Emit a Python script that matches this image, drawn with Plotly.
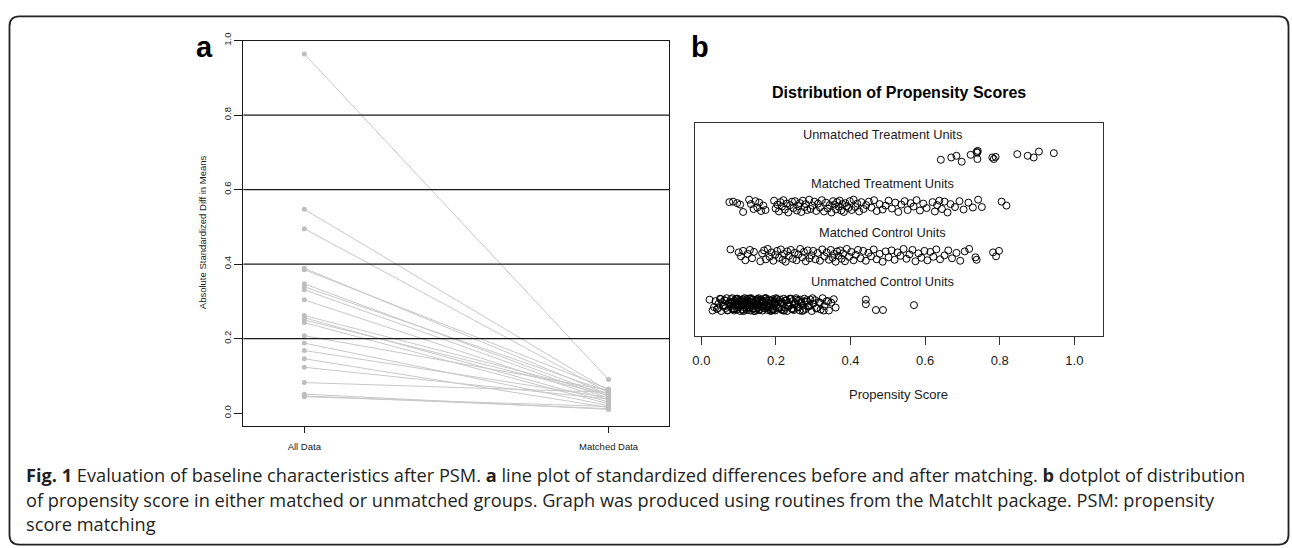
import plotly.graph_objects as go

# ---------------- data ----------------
# Panel a: absolute standardized difference in means per covariate
periods = ["All Data", "Matched Data"]
before_vals = [0.964, 0.547, 0.495, 0.389, 0.385, 0.347, 0.339, 0.331, 0.304, 0.262, 0.256,
               0.250, 0.243, 0.208, 0.188, 0.168, 0.146, 0.123, 0.082, 0.051, 0.046, 0.044]
after_vals = [0.090, 0.060, 0.055, 0.050, 0.065, 0.045, 0.058, 0.040, 0.035, 0.052, 0.030,
              0.048, 0.025, 0.062, 0.020, 0.042, 0.015, 0.038, 0.056, 0.010, 0.012, 0.018]
y_ticks_a = [0.0, 0.2, 0.4, 0.6, 0.8, 1.0]
ref_lines_a = [0.2, 0.4, 0.6, 0.8]

# Panel b: propensity scores (x) and vertical jitter (j) per group
groups = ["Unmatched Control Units", "Matched Control Units",
          "Matched Treatment Units", "Unmatched Treatment Units"]

ut_x = [0.642, 0.670, 0.684, 0.698, 0.722, 0.740, 0.741, 0.740, 0.738, 0.780, 0.784, 0.789,
        0.847, 0.875, 0.891, 0.905, 0.945]
ut_j = [-0.06, -0.014, 0.02, -0.10, 0.04, 0.086, 0.12, -0.046, 0.10, -0.014, -0.046, -0.002,
        0.054, 0.02, -0.014, 0.106, 0.074]

mt_x = [0.075, 0.085, 0.096, 0.104, 0.112,
        0.128, 0.133, 0.140, 0.145, 0.150, 0.155, 0.160, 0.166, 0.172,
        0.195, 0.199, 0.204, 0.208, 0.212, 0.216, 0.220, 0.224, 0.229, 0.233, 0.238,
        0.243, 0.247, 0.251, 0.256, 0.260, 0.264, 0.268, 0.272, 0.276, 0.280, 0.284, 0.289, 0.293, 0.298,
        0.303, 0.308, 0.313, 0.318, 0.323, 0.329, 0.334, 0.339, 0.344, 0.349,
        0.353, 0.357, 0.361, 0.364, 0.368, 0.371, 0.375, 0.378, 0.382, 0.386, 0.390, 0.394, 0.398,
        0.403, 0.408, 0.413, 0.418, 0.423, 0.429, 0.435,
        0.442, 0.449, 0.456, 0.463, 0.470, 0.478, 0.486, 0.494, 0.502, 0.511, 0.520, 0.528, 0.536,
        0.545, 0.553, 0.561, 0.569, 0.577, 0.586, 0.595, 0.604,
        0.620, 0.626, 0.632, 0.638, 0.645, 0.652, 0.660, 0.668,
        0.680, 0.692, 0.703, 0.716, 0.728, 0.742, 0.752,
        0.805, 0.818, 0.825]
mt_j = [0.08, 0.09, 0.06, 0.03, -0.12, 0.13, 0.04, -0.06, 0.10, -0.03,
        0.07, -0.10, 0.01, -0.08, 0.11, -0.05, 0.03, -0.11, 0.08, -0.01,
        0.12, -0.07, 0.05, -0.13, 0.02, 0.09, -0.04, 0.10, -0.09, 0.00,
        0.06, -0.12, 0.11, -0.02, 0.04, -0.08, 0.13, -0.06, 0.01, 0.09,
        -0.10, 0.05, -0.03, 0.12, -0.11, 0.07, -0.05, 0.02, -0.13, 0.10,
        0.03, -0.07, 0.08, -0.01, 0.11, -0.09, 0.04, -0.12, 0.06, 0.00,
        -0.04, 0.10, -0.08, 0.13, -0.02, 0.05, -0.11, 0.08, -0.06, 0.02,
        0.09, -0.03, 0.12, -0.10, 0.04, -0.07, 0.01, 0.11, -0.05, 0.07,
        -0.12, 0.03, 0.10, -0.08, 0.06, -0.01, 0.12, -0.09, 0.05, -0.04,
        0.08, -0.11, 0.02, 0.11, -0.06, 0.09, -0.13, 0.04, -0.02, 0.10,
        -0.07, 0.07, -0.03, 0.13, -0.02, 0.09, 0.01]

mc_x = [0.078,
        0.100, 0.106, 0.112, 0.118, 0.124, 0.130, 0.136, 0.141,
        0.158, 0.163, 0.168, 0.173, 0.178, 0.183, 0.188, 0.193, 0.198, 0.203, 0.208, 0.213,
        0.218, 0.222, 0.226, 0.230, 0.235, 0.240, 0.245, 0.250, 0.255, 0.260, 0.265, 0.270, 0.275, 0.280,
        0.285, 0.290, 0.295, 0.300, 0.306, 0.312, 0.318, 0.324, 0.330, 0.336, 0.342, 0.347, 0.352,
        0.356, 0.360, 0.364, 0.368, 0.372, 0.376, 0.380, 0.385, 0.390, 0.396, 0.402, 0.408, 0.414,
        0.420, 0.427, 0.434, 0.441, 0.448, 0.455, 0.462,
        0.470, 0.478, 0.486, 0.494, 0.502, 0.510, 0.518, 0.526, 0.534, 0.542, 0.550, 0.558, 0.566,
        0.574, 0.582, 0.590, 0.598, 0.606, 0.614, 0.622, 0.630, 0.640,
        0.652, 0.662, 0.672, 0.684, 0.694, 0.706, 0.718, 0.735, 0.738,
        0.782, 0.790, 0.798]
mc_j = [0.12, 0.06, -0.02, 0.09, -0.10, 0.03, 0.11, -0.06, 0.07, -0.12,
        0.04, 0.10, -0.08, 0.13, -0.03, 0.06, -0.11, 0.01, 0.09, -0.05,
        0.12, -0.09, 0.03, -0.13, 0.08, -0.01, 0.11, -0.07, 0.05, -0.10,
        0.02, 0.13, -0.04, 0.07, -0.12, 0.10, -0.06, 0.00, 0.09, -0.08,
        0.05, -0.11, 0.12, -0.02, 0.06, -0.09, 0.11, -0.05, 0.03, -0.13,
        0.08, -0.01, 0.10, -0.07, 0.04, -0.12, 0.13, -0.03, 0.07, -0.10,
        0.01, 0.11, -0.06, 0.09, -0.11, 0.05, -0.02, 0.12, -0.08, 0.03,
        -0.13, 0.08, -0.04, 0.10, -0.09, 0.06, -0.01, 0.13, -0.07, 0.02,
        0.11, -0.12, 0.04, -0.05, 0.09, -0.10, 0.07, -0.03, 0.12, -0.08,
        0.00, 0.10, -0.06, 0.05, -0.11, 0.08, 0.13, -0.04, -0.09, 0.06,
        -0.02, 0.09]

uc_x = [0.022, 0.030, 0.034, 0.038, 0.042, 0.046, 0.050, 0.053, 0.056, 0.059,
        0.062, 0.065, 0.068, 0.071, 0.074, 0.077, 0.080, 0.082, 0.084, 0.086,
        0.088, 0.090, 0.092, 0.094, 0.096, 0.098, 0.100, 0.102, 0.104, 0.106,
        0.108, 0.110, 0.112, 0.114, 0.116, 0.118, 0.120, 0.122, 0.124, 0.126,
        0.128, 0.130, 0.132, 0.134, 0.136, 0.138, 0.140, 0.142, 0.144, 0.146,
        0.148, 0.150, 0.152, 0.154, 0.156, 0.158, 0.160, 0.162, 0.164, 0.166,
        0.168, 0.170, 0.172, 0.174, 0.176, 0.178, 0.180, 0.182, 0.184, 0.186,
        0.188, 0.190, 0.192, 0.194, 0.196, 0.198, 0.200, 0.203, 0.206, 0.209,
        0.212, 0.215, 0.218, 0.221, 0.224, 0.227, 0.230, 0.233, 0.236, 0.239,
        0.242, 0.245, 0.248, 0.251, 0.254, 0.257, 0.260, 0.264, 0.268, 0.272,
        0.276, 0.280, 0.284, 0.288, 0.292, 0.296, 0.300, 0.305, 0.310, 0.315,
        0.320, 0.325, 0.330, 0.336, 0.342, 0.348, 0.355, 0.360,
        0.081, 0.087, 0.093, 0.099, 0.105, 0.111, 0.117, 0.123, 0.129, 0.135,
        0.141, 0.147, 0.153, 0.159, 0.165, 0.171, 0.177, 0.183, 0.189, 0.195,
        0.201, 0.207, 0.213, 0.219, 0.225, 0.231, 0.237, 0.243, 0.249, 0.255,
        0.261, 0.267, 0.274, 0.282, 0.290, 0.298, 0.308, 0.318, 0.328, 0.340,
        0.045, 0.052, 0.058, 0.064, 0.070, 0.076, 0.083, 0.089, 0.095, 0.101,
        0.107, 0.113, 0.119, 0.125, 0.131, 0.137, 0.143, 0.149, 0.155, 0.161,
        0.167, 0.173, 0.179, 0.185, 0.191, 0.197, 0.204, 0.210, 0.216, 0.222,
        0.228, 0.234, 0.240, 0.246, 0.252, 0.258, 0.265, 0.271, 0.278, 0.286,
        0.115, 0.127, 0.139, 0.151, 0.163, 0.175, 0.187, 0.199, 0.121, 0.133,
        0.145, 0.157, 0.169, 0.181, 0.193, 0.109, 0.097, 0.085, 0.073, 0.061,
        0.441, 0.441, 0.468, 0.487, 0.570]
uc_j = [0.10, -0.12, -0.05, 0.07, -0.09, 0.02, 0.12, -0.13, 0.05, -0.02,
        0.09, -0.07, 0.13, -0.11, 0.03, -0.04, 0.11, -0.08, 0.06, 0.00,
        -0.12, 0.08, -0.03, 0.12, -0.10, 0.04, -0.06, 0.10, -0.13, 0.07,
        0.01, -0.09, 0.11, -0.05, 0.13, -0.02, 0.06, -0.11, 0.09, -0.07,
        0.03, 0.12, -0.12, 0.05, -0.04, 0.10, -0.08, 0.02, -0.13, 0.08,
        -0.01, 0.11, -0.06, 0.13, -0.10, 0.04, -0.03, 0.09, -0.12, 0.06,
        0.00, -0.08, 0.12, -0.05, 0.07, -0.11, 0.03, 0.10, -0.02, -0.13,
        0.08, -0.04, 0.11, -0.09, 0.05, -0.12, 0.13, -0.01, 0.06, -0.07,
        0.10, -0.10, 0.02, 0.12, -0.06, 0.09, -0.13, 0.04, -0.03, 0.11,
        -0.08, 0.07, -0.11, 0.01, 0.13, -0.05, 0.08, -0.12, 0.03, -0.02,
        0.12, -0.09, 0.06, -0.04, 0.10, -0.13, 0.02, 0.09, -0.07, 0.05,
        -0.10, 0.13, -0.03, 0.07, -0.12, 0.04, 0.11, -0.06,
        0.05, -0.08, 0.11, -0.02, 0.08, -0.11, 0.03, 0.12, -0.05, 0.09,
        -0.13, 0.06, -0.01, 0.10, -0.07, 0.13, -0.04, 0.02, -0.10, 0.07,
        0.11, -0.06, 0.04, -0.12, 0.08, -0.03, 0.12, -0.09, 0.01, 0.10,
        -0.05, 0.06, -0.11, 0.09, -0.02, 0.13, -0.08, 0.04, -0.12, 0.07,
        -0.07, 0.11, -0.02, 0.08, -0.12, 0.05, 0.13, -0.09, 0.02, -0.05,
        0.10, -0.13, 0.06, -0.01, 0.12, -0.08, 0.03, 0.09, -0.11, 0.04,
        -0.06, 0.13, -0.03, 0.07, -0.10, 0.01, 0.11, -0.07, 0.05, -0.12,
        0.08, -0.02, 0.12, -0.09, 0.03, -0.05, 0.10, -0.13, 0.06, -0.04,
        0.00, 0.07, -0.08, 0.11, -0.03, 0.09, -0.12, 0.02, -0.06, 0.13,
        -0.10, 0.04, -0.01, 0.08, -0.11, 0.06, 0.12, -0.09, 0.03, -0.04,
        0.10, 0.01, -0.11, -0.11, -0.01]

x_ticks_b = [0.0, 0.2, 0.4, 0.6, 0.8, 1.0]

caption_lines = [
    "<b>Fig. 1</b> Evaluation of baseline characteristics after PSM. <b>a</b> line plot of standardized "
    "differences before and after matching. <b>b</b> dotplot of distribution",
    "of propensity score in either matched or unmatched groups. Graph was produced using routines "
    "from the MatchIt package. PSM: propensity",
    "score matching",
]

# ---------------- geometry helpers ----------------
W, H = 1292, 548
def px(x):
    return x / W
def py(y):
    return 1 - y / H

FONT = "Liberation Sans, Arial, sans-serif"
CAP_FONT = "Open Sans, sans-serif"
INK = "#1a1a1a"

fig = go.Figure()

# ---------------- panel a ----------------
lx, ly = [], []
for b, a in zip(before_vals, after_vals):
    lx += [periods[0], periods[1], None]
    ly += [b, a, None]
fig.add_trace(go.Scatter(x=lx, y=ly, mode="lines", line=dict(color="#C8C8C8", width=1),
                         xaxis="x", yaxis="y", hoverinfo="skip", showlegend=False))
fig.add_trace(go.Scatter(x=[periods[0]] * len(before_vals) + [periods[1]] * len(after_vals),
                         y=before_vals + after_vals, mode="markers",
                         marker=dict(color="#BEBEBE", size=5),
                         xaxis="x", yaxis="y", showlegend=False))

# ---------------- panel b ----------------
group_data = {
    groups[0]: (uc_x, uc_j),
    groups[1]: (mc_x, mc_j),
    groups[2]: (mt_x, mt_j),
    groups[3]: (ut_x, ut_j),
}
for gi, g in enumerate(groups):
    xs, js = group_data[g]
    n = min(len(xs), len(js))
    center = gi + 1
    fig.add_trace(go.Scatter(x=xs[:n], y=[center + j for j in js[:n]], mode="markers",
                             marker=dict(symbol="circle-open", size=7, color="black",
                                         line=dict(width=1)),
                             xaxis="x2", yaxis="y2", showlegend=False, name=g))

shapes = []
for v in ref_lines_a:
    shapes.append(dict(type="line", xref="x domain", yref="y", x0=0, x1=1, y0=v, y1=v,
                       line=dict(color=INK, width=1.2), layer="above"))

# rounded outer frame
L, T, R, B, r = 6.5, 8.5, 1288.5, 544.5, 10
path = (f"M {px(L + r)},{py(T)} L {px(R - r)},{py(T)} Q {px(R)},{py(T)} {px(R)},{py(T + r)} "
        f"L {px(R)},{py(B - r)} Q {px(R)},{py(B)} {px(R - r)},{py(B)} "
        f"L {px(L + r)},{py(B)} Q {px(L)},{py(B)} {px(L)},{py(B - r)} "
        f"L {px(L)},{py(T + r)} Q {px(L)},{py(T)} {px(L + r)},{py(T)} Z")
shapes.append(dict(type="path", xref="paper", yref="paper", path=path,
                   line=dict(color="#222222", width=1.8)))

def pa(text, x, y, size, color=INK, xanchor="center", yanchor="middle", **kw):
    return dict(text=text, x=px(x), y=py(y), xref="paper", yref="paper",
                xanchor=xanchor, yanchor=yanchor, showarrow=False,
                font=dict(family=kw.pop("family", FONT), size=size, color=color), **kw)

annotations = [
    pa("<b>a</b>", 202, 39.5, 29, color="black"),
    pa("<b>b</b>", 699, 39.5, 29, color="black"),
    pa("Absolute Standardized Diff in Means", 200, 228, 9.5, textangle=-90),
    pa("<b>Distribution of Propensity Scores</b>", 898, 86, 16, color="black"),
    pa("Propensity Score", 898, 392, 13),
]
for gi, g in enumerate(groups):
    annotations.append(dict(text=g, x=0.487, y=gi + 1 + 0.46, xref="x2", yref="y2",
                            xanchor="center", yanchor="middle", showarrow=False,
                            font=dict(family=FONT, size=12.8, color=INK)))
for i, line in enumerate(caption_lines):
    annotations.append(pa(line, 21, 474 + 25 * i, 18.2, color="#231F20",
                          xanchor="left", align="left", family=CAP_FONT))

fig.update_layout(
    width=W, height=H, margin=dict(l=0, r=0, t=0, b=0),
    paper_bgcolor="white", plot_bgcolor="white",
    font=dict(family=FONT, color=INK),
    showlegend=False,
    xaxis=dict(domain=[px(241), px(668)], anchor="y", type="category", range=[-0.2, 1.2],
               showline=True, mirror=True, linecolor=INK, linewidth=1,
               ticks="outside", ticklen=6, tickcolor=INK, tickwidth=1,
               tickfont=dict(size=9.5, family=FONT, color=INK), ticklabelstandoff=6,
               showgrid=False, zeroline=False),
    yaxis=dict(domain=[py(424), py(33)], anchor="x", range=[-0.034, 1.0],
               tickvals=y_ticks_a, ticktext=[f"{v:.1f}" for v in y_ticks_a], tickangle=-90,
               showline=True, mirror=True, linecolor=INK, linewidth=1,
               ticks="outside", ticklen=8, tickcolor=INK, tickwidth=1,
               tickfont=dict(size=9.5, family=FONT, color=INK),
               showgrid=False, zeroline=False),
    xaxis2=dict(domain=[px(694), px(1103)], anchor="y2", range=[-0.016, 1.078],
                tickvals=x_ticks_b, ticktext=[f"{v:.1f}" for v in x_ticks_b],
                showline=True, mirror=True, linecolor="#333333", linewidth=1,
                ticks="outside", ticklen=8, tickcolor="#333333", tickwidth=1,
                tickfont=dict(size=13, family=FONT, color=INK), ticklabelstandoff=4,
                showgrid=False, zeroline=False),
    yaxis2=dict(domain=[py(333), py(117)], anchor="x2", range=[0.36, 4.68],
                showticklabels=False, ticks="", showline=True, mirror=True,
                linecolor="#333333", linewidth=1, showgrid=False, zeroline=False),
    shapes=shapes,
    annotations=annotations,
)

fig.write_html("out.html")
